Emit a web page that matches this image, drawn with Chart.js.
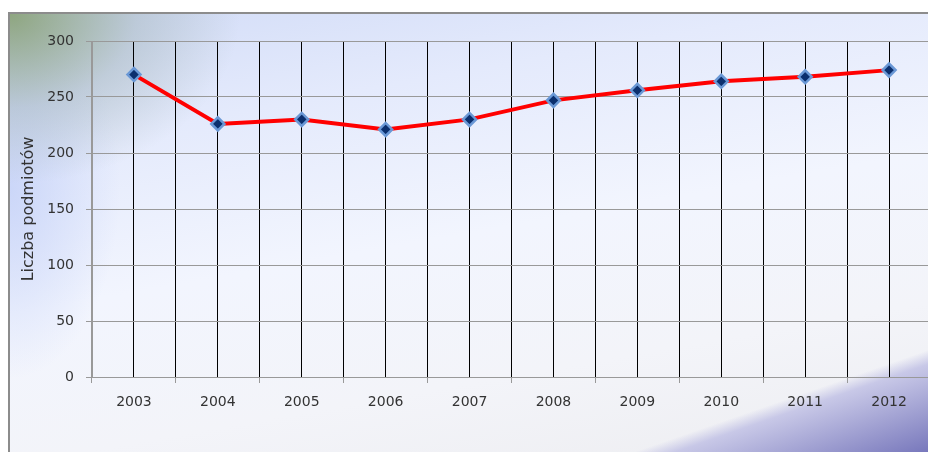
<!DOCTYPE html>
<html>
<head>
<meta charset="utf-8">
<script src="https://cdn.jsdelivr.net/npm/chart.js@4/dist/chart.umd.min.js"></script>
<style>
  html, body { margin: 0; padding: 0; width: 928px; height: 452px; overflow: hidden; background: #fff; }
  #frame {
    position: absolute; left: 8px; top: 12px; width: 940px; height: 460px;
    border-left: 2px solid #8c8c8c; border-top: 2px solid #8c8c8c;
    background:
      radial-gradient(ellipse 230px 170px at 0% 0%, rgba(135,160,115,0.9), rgba(150,170,170,0.4) 55%, rgba(150,170,200,0) 100%),
      radial-gradient(ellipse 110px 190px at 0% 38%, rgba(200,212,248,0.9), rgba(200,212,248,0) 100%),
      linear-gradient(170deg, #d2dcf7 0%, #e4eafc 22%, #f2f5fe 48%, #f3f4f9 72%, #ececef 100%);
  }
  #corner {
    position: absolute; left: 634px; top: 350px; width: 294px; height: 102px;
    background: linear-gradient(to bottom right, rgba(150,150,205,0) 50%, rgba(190,190,228,0.8) 57%, rgba(120,120,188,1) 100%);
  }
  #wrap { position: absolute; left: 0; top: 0; width: 940px; height: 452px; }
</style>
</head>
<body>
<div id="frame"></div>
<div id="corner"></div>
<div id="wrap"><canvas id="chart"></canvas></div>
<script>
// Data
const years = ['2003', '2004', '2005', '2006', '2007', '2008', '2009', '2010', '2011', '2012'];
const entities = [270, 226, 230, 221, 230, 247, 256, 264, 268, 274];
const yTitle = 'Liczba podmiotów';

const font = { family: 'DejaVu Sans', size: 14 };

new Chart(document.getElementById('chart'), {
    type: 'line',
    data: {
        labels: years,
        datasets: [{
            label: yTitle,
            data: entities,
            xAxisID: 'x',
            borderColor: '#ff0000',
            borderWidth: 4,
            tension: 0,
            pointStyle: 'rectRot',
            pointRadius: 6.5,
            pointBackgroundColor: '#0b2f6e',
            pointBorderColor: '#6a98d6',
            pointBorderWidth: 2.5
        }]
    },
    options: {
        responsive: true,
        maintainAspectRatio: false,
        animation: false,
        layout: { padding: { top: 41, right: 7, left: 0, bottom: 0 } },
        plugins: { legend: { display: false }, tooltip: { enabled: false } },
        scales: {
            x: {
                type: 'category',
                offset: true,
                grid: {
                    offset: true,
                    color: ctx => ctx.index === 0 ? '#999' : '#000',
                    tickColor: '#999',
                    tickLength: 6,
                    lineWidth: 1
                },
                border: { color: '#999' },
                ticks: { color: '#333', font, padding: 11, maxRotation: 0 },
                afterFit: s => { s.height = 75; }
            },
            x2: {
                type: 'category',
                labels: years,
                position: 'top',
                offset: true,
                grid: { offset: false, color: '#000', drawTicks: false },
                border: { display: false },
                ticks: { display: false },
                afterFit: s => { s.height = 0; }
            },
            y: {
                min: 0,
                max: 300,
                ticks: { stepSize: 50, color: '#333', font, padding: 12 },
                grid: { color: '#999', tickColor: '#999', tickLength: 6 },
                border: { color: '#999' },
                title: {
                    display: true, text: yTitle, color: '#333',
                    font: { family: 'DejaVu Sans', size: 16 },
                    padding: { top: 19, bottom: 0 }
                },
                afterFit: s => { s.width = 92; }
            }
        }
    }
});
</script>
</body>
</html>
